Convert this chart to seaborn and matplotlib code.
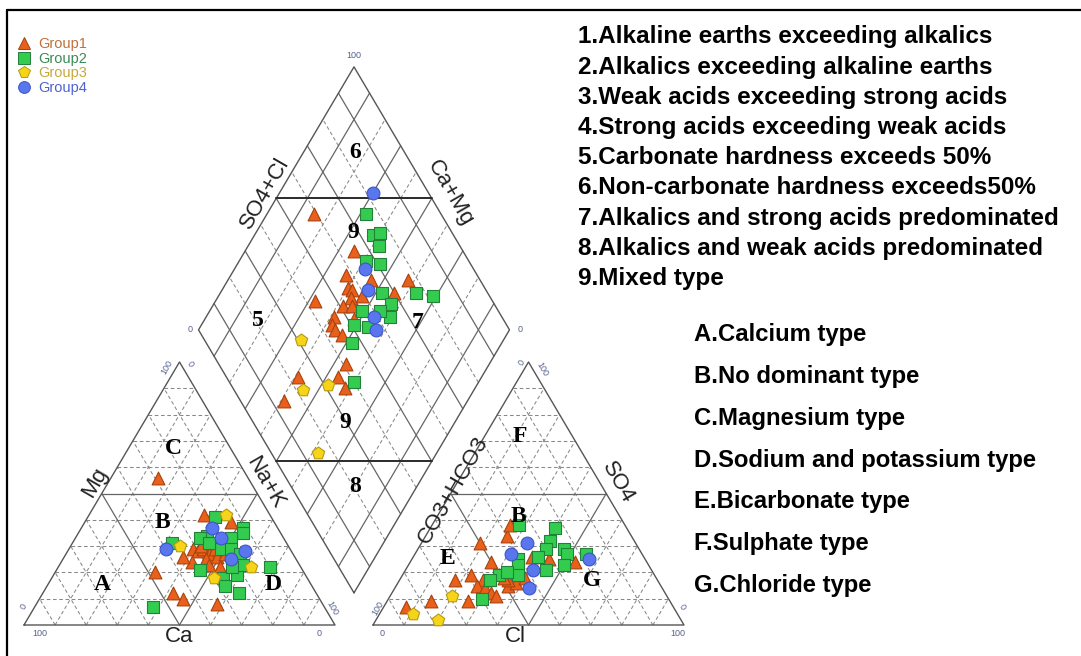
import numpy as np
import pandas as pd
import seaborn as sns
import matplotlib
matplotlib.use("Agg")
import matplotlib.pyplot as plt
from matplotlib.lines import Line2D

# ---- data (% meq/L) ----
groups = ["Group1", "Group2", "Group3", "Group4"]

# cation triangle: Mg and Na+K, Ca is the rest
g1_mg = [56, 42, 39, 20, 12, 10, 8, 29, 28, 29, 27, 29, 24, 25, 23, 26, 27, 26, 22, 30]
g1_nak = [15, 37, 47, 32, 42, 46, 58, 40, 42, 43, 46, 47, 42, 46, 48, 49, 51, 38, 52, 42]
g2_mg = [41, 37, 35, 31, 34, 33, 33, 29, 29, 27, 21, 18, 15, 19, 12, 22, 7, 23, 22, 31]
g2_nak = [41, 52, 53, 32, 42, 40, 50, 49, 52, 56, 46, 55, 57, 59, 63, 68, 38, 59, 56, 44]
g3_mg = [42, 30, 22, 18]
g3_nak = [44, 35, 62, 52]
g4_mg = [37, 33, 29, 28, 25]
g4_nak = [42, 47, 31, 57, 54]

# anion triangle: SO4 and Cl, CO3+HCO3 is the rest
g1_so4 = [34, 38, 31, 24, 17, 19, 17, 15, 14, 12, 11, 9, 9, 7, 15, 16, 17, 26, 25, 24, 18, 18]
g1_cl = [26, 25, 19, 26, 18, 22, 27, 26, 29, 32, 34, 14, 26, 7, 36, 38, 35, 38, 44, 53, 40, 33]
g2_so4 = [38, 37, 32, 29, 26, 29, 27, 27, 23, 21, 25, 23, 19, 19, 17, 10, 20]
g2_cl = [28, 40, 41, 41, 40, 47, 49, 55, 50, 45, 34, 35, 37, 31, 29, 30, 33]
g3_so4 = [11, 4, 2]
g3_cl = [20, 11, 20]
g4_so4 = [31, 27, 21, 14, 25]
g4_cl = [34, 31, 41, 43, 57]

# diamond: Ca+Mg and SO4+Cl
g1_camg = [85, 65, 63, 54, 42, 60, 58, 44, 57, 68, 58, 55, 59, 58, 56, 53, 52, 54, 46, 59, 46, 42, 59]
g1_so4cl = [59, 65, 58, 65, 77, 56, 57, 70, 55, 43, 51, 54, 46, 44, 44, 45, 52, 59, 41, 23, 36, 36, 14]
g2_camg = [68, 62, 60, 58, 59, 54, 48, 37, 31, 43, 51, 41, 51, 45, 48, 46, 40]
g2_so4cl = [76, 74, 77, 74, 67, 71, 66, 77, 82, 67, 56, 64, 51, 62, 47, 55, 40]
g3_camg = [65, 55, 48, 38]
g3_so4cl = [31, 22, 31, 15]
g4_camg = [70, 58, 53, 46, 43]
g4_so4cl = [82, 65, 62, 59, 57]

notes_num = ["1.Alkaline earths exceeding alkalics",
             "2.Alkalics exceeding alkaline earths",
             "3.Weak acids exceeding strong acids",
             "4.Strong acids exceeding weak acids",
             "5.Carbonate hardness exceeds 50%",
             "6.Non-carbonate hardness exceeds50%",
             "7.Alkalics and strong acids predominated",
             "8.Alkalics and weak acids predominated",
             "9.Mixed type"]
notes_abc = ["A.Calcium type", "B.No dominant type", "C.Magnesium type",
             "D.Sodium and potassium type", "E.Bicarbonate type",
             "F.Sulphate type", "G.Chloride type"]

# ---- styling ----
face = {"Group1": "#e8601c", "Group2": "#33cc4f", "Group3": "#f5d41a", "Group4": "#5a76ee"}
edge = {"Group1": "#a8420c", "Group2": "#23803a", "Group3": "#b89a10", "Group4": "#3c55c8"}
text_col = {"Group1": "#c0703a", "Group2": "#3a8c55", "Group3": "#c8a838", "Group4": "#5062d0"}
mk = {"Group1": "^", "Group2": "s", "Group3": "p", "Group4": "o"}
msize = {"Group1": 85, "Group2": 70, "Group3": 88, "Group4": 85}

# ---- geometry (figure pixels) ----
OX_L, OX_R, BASE_Y = 24, 373, 625
SIDE, HGT = 311, 263
GAP = OX_R - OX_L - SIDE
DIA_X = OX_L + SIDE + GAP / 2
DIA_Y = BASE_Y - HGT * GAP / SIDE


def tri_pt(ox, b, c):
    return ox + SIDE * (b + c / 2), BASE_Y - HGT * c


def dia_pt(a, s):
    return DIA_X + SIDE / 2 * (s - a), DIA_Y - HGT * (a + s)


sns.set_style("white")
plt.rcParams["font.family"] = ["Liberation Sans", "DejaVu Sans"]
plt.rcParams["text.color"] = "black"

fig = plt.figure(figsize=(10.81, 6.56), dpi=100)
ax = fig.add_axes([0, 0, 1, 1])

solid = dict(color="#666666", lw=0.9, ls="-", zorder=1)
dashed = dict(color="#888888", lw=0.75, ls=(0, (3.5, 2.5)), zorder=1)


def seg(p, q, **kw):
    ax.plot([p[0], q[0]], [p[1], q[1]], **kw)


# triangles
for ox in (OX_L, OX_R):
    for k in range(1, 10):
        t = k / 10
        st = solid if k == 5 else dashed
        seg(tri_pt(ox, 0, t), tri_pt(ox, 1 - t, t), **st)
        seg(tri_pt(ox, t, 0), tri_pt(ox, t, 1 - t), **st)
        seg(tri_pt(ox, 1 - t, 0), tri_pt(ox, 0, 1 - t), **st)
    corners = [tri_pt(ox, 0, 0), tri_pt(ox, 1, 0), tri_pt(ox, 0, 1), tri_pt(ox, 0, 0)]
    ax.plot([p[0] for p in corners], [p[1] for p in corners], color="#555555", lw=1.0, zorder=1)

# diamond
for k in range(1, 10):
    t = k / 10
    st = solid if k % 2 == 1 else dashed
    seg(dia_pt(t, 0), dia_pt(t, 1), **st)
    seg(dia_pt(0, t), dia_pt(1, t), **st)
corners = [dia_pt(0, 0), dia_pt(1, 0), dia_pt(1, 1), dia_pt(0, 1), dia_pt(0, 0)]
ax.plot([p[0] for p in corners], [p[1] for p in corners], color="#555555", lw=1.0, zorder=1)
seg(dia_pt(1, 0.5), dia_pt(0.5, 1), color="#2a2a2a", lw=1.4, zorder=2)
seg(dia_pt(0.5, 0), dia_pt(0, 0.5), color="#2a2a2a", lw=1.4, zorder=2)

# ---- samples ----
cat = {"Group1": (g1_mg, g1_nak), "Group2": (g2_mg, g2_nak),
       "Group3": (g3_mg, g3_nak), "Group4": (g4_mg, g4_nak)}
ani = {"Group1": (g1_so4, g1_cl), "Group2": (g2_so4, g2_cl),
       "Group3": (g3_so4, g3_cl), "Group4": (g4_so4, g4_cl)}
dia = {"Group1": (g1_camg, g1_so4cl), "Group2": (g2_camg, g2_so4cl),
       "Group3": (g3_camg, g3_so4cl), "Group4": (g4_camg, g4_so4cl)}

rows = []
for g in groups:
    mg, nak = np.array(cat[g][0]) / 100, np.array(cat[g][1]) / 100
    x, y = tri_pt(OX_L, nak, mg)
    rows.append(pd.DataFrame({"x": x, "y": y, "group": g}))
    so4, cl = np.array(ani[g][0]) / 100, np.array(ani[g][1]) / 100
    x, y = tri_pt(OX_R, cl, so4)
    rows.append(pd.DataFrame({"x": x, "y": y, "group": g}))
    camg, so4cl = np.array(dia[g][0]) / 100, np.array(dia[g][1]) / 100
    x, y = dia_pt(camg, so4cl)
    rows.append(pd.DataFrame({"x": x, "y": y, "group": g}))
df = pd.concat(rows, ignore_index=True)

for g in groups:
    sns.scatterplot(data=df[df.group == g], x="x", y="y", marker=mk[g], s=msize[g],
                    color=face[g], edgecolor=edge[g], linewidth=0.8,
                    legend=False, ax=ax, zorder=3)
ax.set_xlim(0, 1081)
ax.set_ylim(656, 0)
ax.axis("off")

# ---- axis titles and end values ----
tfs = 16
tc = "#222222"
ax.text(95, 482, "Mg", fontsize=tfs, color=tc, rotation=60, ha="center", va="center")
ax.text(265, 483, "Na+K", fontsize=tfs, color=tc, rotation=-60, ha="center", va="center")
ax.text(179, 637, "Ca", fontsize=tfs, color=tc, ha="center", va="center")
ax.text(515, 637, "Cl", fontsize=tfs, color=tc, ha="center", va="center")
ax.text(453, 490, "CO3+HCO3", fontsize=tfs, color=tc, rotation=60, ha="center", va="center")
ax.text(618, 483, "SO4", fontsize=tfs, color=tc, rotation=-60, ha="center", va="center")
ax.text(265, 193, "SO4+Cl", fontsize=tfs, color=tc, rotation=60, ha="center", va="center")
ax.text(450, 193, "Ca+Mg", fontsize=tfs, color=tc, rotation=-60, ha="center", va="center")

nc = "#56628e"
nfs = 6.5
for (x, y, s, r) in [(40, 633, "100", 0), (319, 633, "0", 0), (24, 607, "0", 60),
                     (167, 367, "100", 60), (190, 364, "0", -60), (332, 608, "100", -60),
                     (382, 633, "0", 0), (678, 633, "100", 0), (378, 608, "100", 60),
                     (522, 363, "0", 60), (542, 369, "100", -60), (682, 607, "0", -60),
                     (354, 55, "100", 0), (190, 330, "0", 0), (520, 330, "0", 0)]:
    ax.text(x, y, s, fontsize=nfs, color=nc, rotation=r, ha="center", va="center")

# ---- region labels ----
serif = dict(fontsize=17, fontweight="bold", family="Liberation Serif", ha="center", va="center")
for (x, y, s) in [(173, 448, "C"), (162, 522, "B"), (102, 585, "A"), (273, 585, "D"),
                  (520, 437, "F"), (518, 517, "B"), (447, 558, "E"), (592, 580, "G"),
                  (355, 152, "6"), (353, 233, "9"), (258, 320, "5"), (418, 322, "7"),
                  (345, 423, "9"), (355, 487, "8")]:
    ax.text(x, y, s, **serif)

# ---- notes on the right ----
for i, s in enumerate(notes_num):
    ax.text(578, 37 + i * 30.2, s, fontsize=17.5, fontweight="bold", ha="left", va="center")
for i, s in enumerate(notes_abc):
    ax.text(694, 335 + i * 41.7, s, fontsize=17.2, fontweight="bold", ha="left", va="center")

# ---- legend ----
handles = [Line2D([], [], ls="", marker=mk[g], markersize=8.5, markerfacecolor=face[g],
                  markeredgecolor=edge[g], markeredgewidth=0.7) for g in groups]
ax.legend(handles, groups, loc="upper left", bbox_to_anchor=(17, 37),
          bbox_transform=ax.transData, frameon=False, fontsize=10.5,
          labelcolor=[text_col[g] for g in groups], handlelength=1.0,
          handletextpad=0.45, labelspacing=0.05, borderpad=0, borderaxespad=0)

# frame (top and left border of the original)
ax.plot([7, 1081], [10, 10], color="black", lw=1.6, zorder=5)
ax.plot([7, 7], [10, 656], color="black", lw=1.6, zorder=5)

fig.savefig("out.png", dpi=100)
